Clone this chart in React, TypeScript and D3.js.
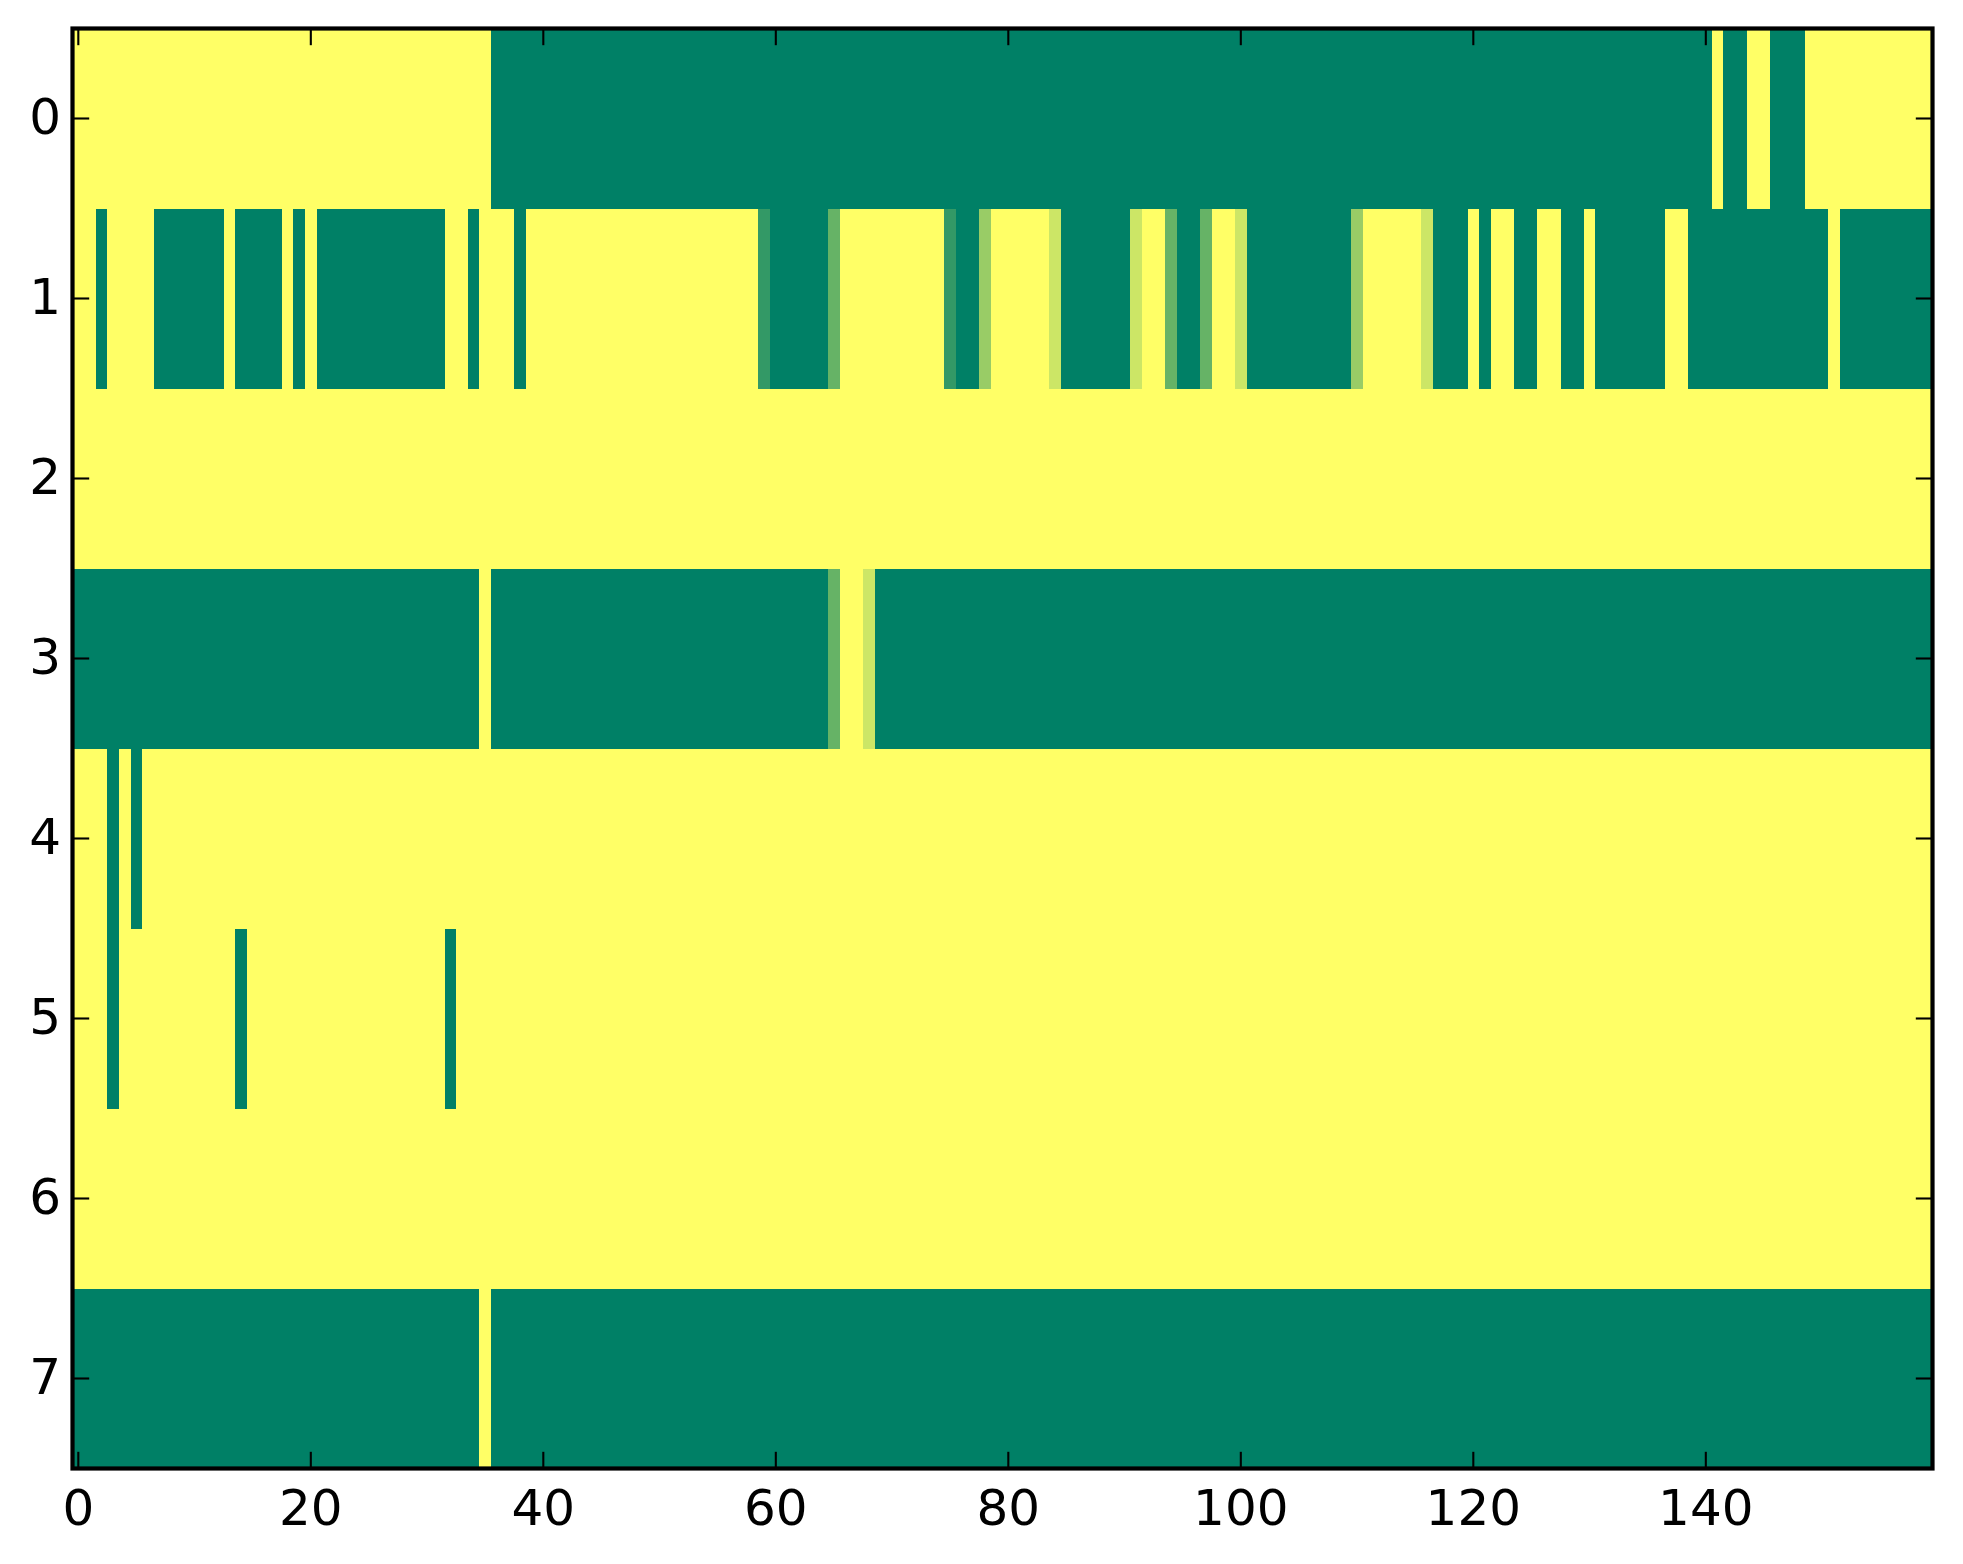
import React from "react";
import * as d3 from "d3";

// ---- Data (values 0..1; 8 rows x 160 columns) ----
const row0 = [
  1,1,1,1,1,1,1,1,1,1,1,1,1,1,1,1,1,1,1,1,
  1,1,1,1,1,1,1,1,1,1,1,1,1,1,1,1,0,0,0,0,
  0,0,0,0,0,0,0,0,0,0,0,0,0,0,0,0,0,0,0,0,
  0,0,0,0,0,0,0,0,0,0,0,0,0,0,0,0,0,0,0,0,
  0,0,0,0,0,0,0,0,0,0,0,0,0,0,0,0,0,0,0,0,
  0,0,0,0,0,0,0,0,0,0,0,0,0,0,0,0,0,0,0,0,
  0,0,0,0,0,0,0,0,0,0,0,0,0,0,0,0,0,0,0,0,
  0,1,0,0,1,1,0,0,0,1,1,1,1,1,1,1,1,1,1,1,
];
const row1 = [
  1,1,0,1,1,1,1,0,0,0,0,0,0,1,0,0,0,0,1,0,
  1,0,0,0,0,0,0,0,0,0,0,0,1,1,0,1,1,1,0,1,
  1,1,1,1,1,1,1,1,1,1,1,1,1,1,1,1,1,1,1,0.2,
  0,0,0,0,0,0.4,1,1,1,1,1,1,1,1,1,0.2,0,0,0.6,1,
  1,1,1,1,0.8,0,0,0,0,0,0,0.8,1,1,0.4,0,0,0.4,1,1,
  0.8,0,0,0,0,0,0,0,0,0,0.6,1,1,1,1,1,0.8,0,0,0,
  1,0,1,1,0,0,1,1,0,0,1,0,0,0,0,0,0,1,1,0,
  0,0,0,0,0,0,0,0,0,0,0,1,0,0,0,0,0,0,0,0,
];
const row2 = [
  1,1,1,1,1,1,1,1,1,1,1,1,1,1,1,1,1,1,1,1,
  1,1,1,1,1,1,1,1,1,1,1,1,1,1,1,1,1,1,1,1,
  1,1,1,1,1,1,1,1,1,1,1,1,1,1,1,1,1,1,1,1,
  1,1,1,1,1,1,1,1,1,1,1,1,1,1,1,1,1,1,1,1,
  1,1,1,1,1,1,1,1,1,1,1,1,1,1,1,1,1,1,1,1,
  1,1,1,1,1,1,1,1,1,1,1,1,1,1,1,1,1,1,1,1,
  1,1,1,1,1,1,1,1,1,1,1,1,1,1,1,1,1,1,1,1,
  1,1,1,1,1,1,1,1,1,1,1,1,1,1,1,1,1,1,1,1,
];
const row3 = [
  0,0,0,0,0,0,0,0,0,0,0,0,0,0,0,0,0,0,0,0,
  0,0,0,0,0,0,0,0,0,0,0,0,0,0,0,1,0,0,0,0,
  0,0,0,0,0,0,0,0,0,0,0,0,0,0,0,0,0,0,0,0,
  0,0,0,0,0,0.4,1,1,0.8,0,0,0,0,0,0,0,0,0,0,0,
  0,0,0,0,0,0,0,0,0,0,0,0,0,0,0,0,0,0,0,0,
  0,0,0,0,0,0,0,0,0,0,0,0,0,0,0,0,0,0,0,0,
  0,0,0,0,0,0,0,0,0,0,0,0,0,0,0,0,0,0,0,0,
  0,0,0,0,0,0,0,0,0,0,0,0,0,0,0,0,0,0,0,0,
];
const row4 = [
  1,1,1,0,1,0,1,1,1,1,1,1,1,1,1,1,1,1,1,1,
  1,1,1,1,1,1,1,1,1,1,1,1,1,1,1,1,1,1,1,1,
  1,1,1,1,1,1,1,1,1,1,1,1,1,1,1,1,1,1,1,1,
  1,1,1,1,1,1,1,1,1,1,1,1,1,1,1,1,1,1,1,1,
  1,1,1,1,1,1,1,1,1,1,1,1,1,1,1,1,1,1,1,1,
  1,1,1,1,1,1,1,1,1,1,1,1,1,1,1,1,1,1,1,1,
  1,1,1,1,1,1,1,1,1,1,1,1,1,1,1,1,1,1,1,1,
  1,1,1,1,1,1,1,1,1,1,1,1,1,1,1,1,1,1,1,1,
];
const row5 = [
  1,1,1,0,1,1,1,1,1,1,1,1,1,1,0,1,1,1,1,1,
  1,1,1,1,1,1,1,1,1,1,1,1,0,1,1,1,1,1,1,1,
  1,1,1,1,1,1,1,1,1,1,1,1,1,1,1,1,1,1,1,1,
  1,1,1,1,1,1,1,1,1,1,1,1,1,1,1,1,1,1,1,1,
  1,1,1,1,1,1,1,1,1,1,1,1,1,1,1,1,1,1,1,1,
  1,1,1,1,1,1,1,1,1,1,1,1,1,1,1,1,1,1,1,1,
  1,1,1,1,1,1,1,1,1,1,1,1,1,1,1,1,1,1,1,1,
  1,1,1,1,1,1,1,1,1,1,1,1,1,1,1,1,1,1,1,1,
];
const row6 = [
  1,1,1,1,1,1,1,1,1,1,1,1,1,1,1,1,1,1,1,1,
  1,1,1,1,1,1,1,1,1,1,1,1,1,1,1,1,1,1,1,1,
  1,1,1,1,1,1,1,1,1,1,1,1,1,1,1,1,1,1,1,1,
  1,1,1,1,1,1,1,1,1,1,1,1,1,1,1,1,1,1,1,1,
  1,1,1,1,1,1,1,1,1,1,1,1,1,1,1,1,1,1,1,1,
  1,1,1,1,1,1,1,1,1,1,1,1,1,1,1,1,1,1,1,1,
  1,1,1,1,1,1,1,1,1,1,1,1,1,1,1,1,1,1,1,1,
  1,1,1,1,1,1,1,1,1,1,1,1,1,1,1,1,1,1,1,1,
];
const row7 = [
  0,0,0,0,0,0,0,0,0,0,0,0,0,0,0,0,0,0,0,0,
  0,0,0,0,0,0,0,0,0,0,0,0,0,0,0,1,0,0,0,0,
  0,0,0,0,0,0,0,0,0,0,0,0,0,0,0,0,0,0,0,0,
  0,0,0,0,0,0,0,0,0,0,0,0,0,0,0,0,0,0,0,0,
  0,0,0,0,0,0,0,0,0,0,0,0,0,0,0,0,0,0,0,0,
  0,0,0,0,0,0,0,0,0,0,0,0,0,0,0,0,0,0,0,0,
  0,0,0,0,0,0,0,0,0,0,0,0,0,0,0,0,0,0,0,0,
  0,0,0,0,0,0,0,0,0,0,0,0,0,0,0,0,0,0,0,0,
];
const rows = [row0, row1, row2, row3, row4, row5, row6, row7];

const xTicks = [0, 20, 40, 60, 80, 100, 120, 140];
const yTicks = [0, 1, 2, 3, 4, 5, 6, 7];

// ---- Layout ----
const W = 1963;
const H = 1564;
const X0 = 72.5;
const X1 = 1932.5;
const Y0 = 28.5;
const Y1 = 1468.5;
const TICK = 16.7;
const FONT = "'DejaVu Sans', sans-serif";
const FS = 50;

type Run = { row: number; start: number; end: number; value: number };

export default function App() {
  const nCols = row0.length;
  const nRows = rows.length;
  const x = d3.scaleLinear().domain([-0.5, nCols - 0.5]).range([X0, X1]);
  const y = d3.scaleLinear().domain([-0.5, nRows - 0.5]).range([Y0, Y1]);
  // matplotlib "summer" colormap: (v, 0.5 + v/2, 0.4)
  const color = d3
    .scaleLinear<string>()
    .domain([0, 1])
    .range(["#008066", "#ffff66"])
    .interpolate(d3.interpolateRgb);

  // group adjacent cells of equal value in a row (avoids hairline seams)
  const runs: Run[] = [];
  rows.forEach((row, r) => {
    let start = 0;
    for (let c = 1; c <= row.length; c++) {
      if (c === row.length || row[c] !== row[start]) {
        runs.push({ row: r, start, end: c - 1, value: row[start] });
        start = c;
      }
    }
  });

  return (
    <svg
      width={W}
      height={H}
      viewBox={`0 0 ${W} ${H}`}
      style={{ position: "absolute", left: 0, top: 0, background: "#fff", display: "block" }}
    >
      <rect x={0} y={0} width={W} height={H} fill="#fff" />
      <g shapeRendering="crispEdges">
        {runs.map((run, i) => {
          const xa = x(run.start - 0.5);
          const xb = x(run.end + 0.5);
          const ya = y(run.row - 0.5);
          const yb = y(run.row + 0.5);
          return (
            <rect
              key={i}
              x={xa}
              y={ya}
              width={xb - xa}
              height={yb - ya}
              fill={color(run.value)}
            />
          );
        })}
      </g>
      {/* x ticks (top & bottom, inside) */}
      {xTicks.map((t) => (
        <g key={`xt${t}`}>
          <line x1={x(t)} x2={x(t)} y1={Y1} y2={Y1 - TICK} stroke="#000" strokeWidth={2.1} />
          <line x1={x(t)} x2={x(t)} y1={Y0} y2={Y0 + TICK} stroke="#000" strokeWidth={2.1} />
          <text
            x={x(t)}
            y={Y1 + 56.5}
            textAnchor="middle"
            fontFamily={FONT}
            fontSize={FS}
            fill="#000"
          >
            {t}
          </text>
        </g>
      ))}
      {/* y ticks (left & right, inside) */}
      {yTicks.map((t) => (
        <g key={`yt${t}`}>
          <line x1={X0} x2={X0 + TICK} y1={y(t)} y2={y(t)} stroke="#000" strokeWidth={2.1} />
          <line x1={X1} x2={X1 - TICK} y1={y(t)} y2={y(t)} stroke="#000" strokeWidth={2.1} />
          <text
            x={X0 - 11.5}
            y={y(t) + 15.5}
            textAnchor="end"
            fontFamily={FONT}
            fontSize={FS}
            fill="#000"
          >
            {t}
          </text>
        </g>
      ))}
      <rect
        x={X0}
        y={Y0}
        width={X1 - X0}
        height={Y1 - Y0}
        fill="none"
        stroke="#000"
        strokeWidth={4.2}
      />
    </svg>
  );
}
